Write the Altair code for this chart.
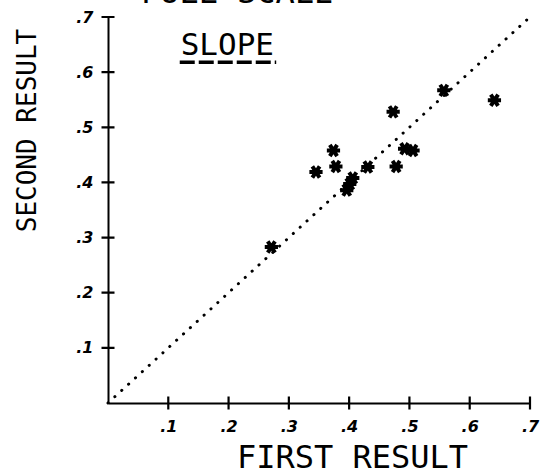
import altair as alt
import pandas as pd

# Data
first_result = [0.271, 0.345, 0.374, 0.378, 0.396, 0.401, 0.406, 0.431,
                0.473, 0.478, 0.492, 0.506, 0.557, 0.641]
second_result = [0.283, 0.419, 0.458, 0.429, 0.386, 0.397, 0.408, 0.428,
                 0.528, 0.429, 0.461, 0.458, 0.567, 0.549]
tick_values = [0.1, 0.2, 0.3, 0.4, 0.5, 0.6, 0.7]
diag_values = [0.0, 0.7]
panel_title = ["FULL SCALE"]
panel_title_pos = [0.214, 0.726]
note_text = ["SLOPE"]
note_pos = [0.198, 0.631]
note_underline = [0.119, 0.279, 0.618]
x_title = "FIRST RESULT"
y_title = "SECOND RESULT"

W, H = 422, 386
TICK_HALF_PX = 6.5
domain = [0.0, 0.7]
label_expr = "datum.value == 0 ? '' : replace(format(datum.value, '.1f'), '0.', '.')"

xaxis = alt.Axis(values=tick_values, labelExpr=label_expr, ticks=False,
                 grid=False, domainColor="black", domainWidth=2,
                 labelFont="DejaVu Sans", labelFontSize=16, labelFontWeight="bold",
                 labelFontStyle="italic", labelColor="black", labelPadding=15,
                 labelAlign="center",
                 titleFont="DejaVu Sans Mono", titleFontSize=32, titleFontWeight="normal",
                 titleColor="black", titleX=244, titleY=64, titleBaseline="alphabetic",
                 titleAlign="center")
yaxis = alt.Axis(values=tick_values, labelExpr=label_expr, ticks=False,
                 grid=False, domainColor="black", domainWidth=2,
                 labelFont="DejaVu Sans", labelFontSize=16, labelFontWeight="bold",
                 labelFontStyle="italic", labelColor="black", labelPadding=15,
                 titleFont="DejaVu Sans Mono", titleFontSize=26, titleFontWeight="normal",
                 titleColor="black", titleX=-73, titleY=113, titleAngle=270,
                 titleBaseline="alphabetic", titleAlign="center")

sc = alt.Scale(domain=domain, nice=False, zero=True)

# tick half-lengths converted from pixels to data units
dy = TICK_HALF_PX * (domain[1] - domain[0]) / H
dx = TICK_HALF_PX * (domain[1] - domain[0]) / W

# all short segments (axis crossing ticks + the SLOPE underline) in one table
seg_rows = []
for v in tick_values:
    seg_rows.append({"x": v, "x2": v, "y": -dy, "y2": dy, "kind": "tick"})
    seg_rows.append({"x": -dx, "x2": dx, "y": v, "y2": v, "kind": "tick"})
seg_rows.append({"x": note_underline[0], "x2": note_underline[1],
                 "y": note_underline[2], "y2": note_underline[2], "kind": "underline"})
segs = pd.DataFrame(seg_rows)

pts = pd.DataFrame({"x": first_result, "y": second_result})
diag = pd.DataFrame({"x": diag_values, "y": diag_values})
title_df = pd.DataFrame({"x": [panel_title_pos[0]], "y": [panel_title_pos[1]], "t": panel_title})
note_df = pd.DataFrame({"x": [note_pos[0]], "y": [note_pos[1]], "t": note_text})

star = "M-1,0L1,0M-0.55,-0.85L0.55,0.85M-0.55,0.85L0.55,-0.85"

base_x = alt.X("x:Q", scale=sc, axis=xaxis, title=x_title)
base_y = alt.Y("y:Q", scale=sc, axis=yaxis, title=y_title)
plain_x = alt.X("x:Q", scale=sc)
plain_y = alt.Y("y:Q", scale=sc)

points = alt.Chart(pts).mark_point(shape=star, filled=False, size=175, strokeWidth=4,
                                   color="black", opacity=1).encode(x=base_x, y=base_y)
line = alt.Chart(diag).mark_line(color="black", strokeWidth=3, strokeCap="round",
                                 strokeDash=[0.1, 9.2]).encode(x=plain_x, y=plain_y)
segments = alt.Chart(segs).mark_rule(color="black").encode(
    x=plain_x, x2="x2:Q", y=plain_y, y2="y2:Q",
    strokeDash=alt.StrokeDash("kind:N", legend=None,
                              scale=alt.Scale(domain=["tick", "underline"],
                                              range=[[1, 0], [15, 4]])),
    strokeWidth=alt.StrokeWidth("kind:N", legend=None,
                                scale=alt.Scale(domain=["tick", "underline"],
                                                range=[2.2, 3.5])),
)
ttl = alt.Chart(title_df).mark_text(font="DejaVu Sans Mono", fontSize=32, color="black",
                                    baseline="alphabetic", align="center").encode(
    x=plain_x, y=plain_y, text="t:N")
note = alt.Chart(note_df).mark_text(font="DejaVu Sans Mono", fontSize=31, color="black",
                                    baseline="alphabetic", align="center").encode(
    x=plain_x, y=plain_y, text="t:N")

chart = alt.layer(points, line, segments, ttl, note).properties(
    width=W, height=H,
    autosize=alt.AutoSizeParams(type="none"),
    padding={"left": 108, "top": 17, "right": 14, "bottom": 68},
).configure(background="white").configure_view(stroke=None)

chart.save("out.html", embed_options={"renderer": "svg", "actions": False})
